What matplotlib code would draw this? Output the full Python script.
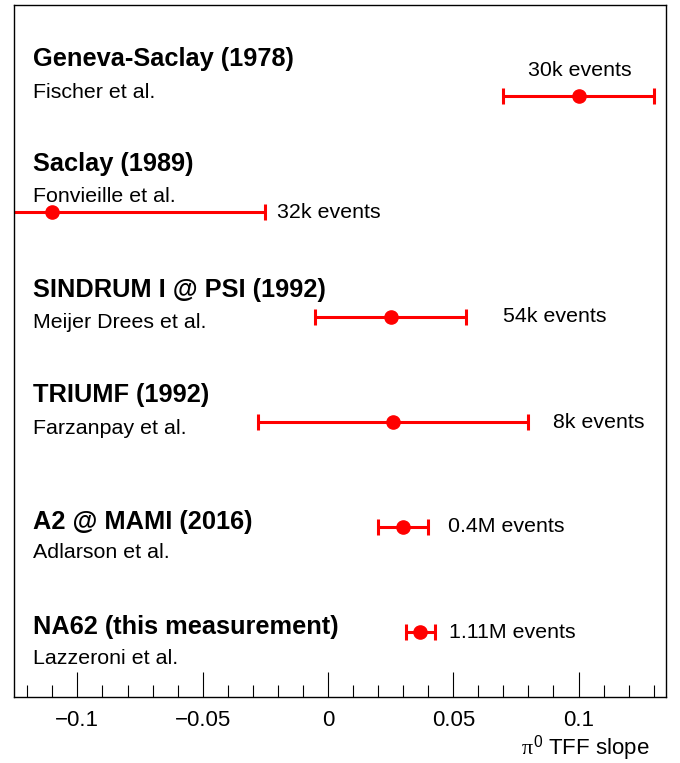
import numpy as np
import matplotlib
matplotlib.use("Agg")
from matplotlib import pyplot as plt
from matplotlib.ticker import MultipleLocator

plt.rcParams["font.family"] = ["Liberation Sans", "DejaVu Sans"]
plt.rcParams["mathtext.fontset"] = "custom"
plt.rcParams["mathtext.rm"] = "Liberation Sans"
plt.rcParams["mathtext.it"] = "Liberation Serif"

experiments = ["Geneva-Saclay (1978)", "Saclay (1989)", "SINDRUM I @ PSI (1992)",
               "TRIUMF (1992)", "A2 @ MAMI (2016)", "NA62 (this measurement)"]
authors = ["Fischer et al.", "Fonvieille et al.", "Meijer Drees et al.",
           "Farzanpay et al.", "Adlarson et al.", "Lazzeroni et al."]
slopes = [0.100, -0.110, 0.025, 0.026, 0.030, 0.0368]
errors = [0.030, 0.085, 0.030, 0.054, 0.010, 0.0058]
events = ["30k events", "32k events", "54k events", "8k events", "0.4M events", "1.11M events"]

# layout (axes units, 0 = bottom of frame)
row_y = [601, 485, 380, 275, 170, 65]
title_dy = [37, 48, 27, 27, 5, 5]
author_dy = [4, 15, -5, -6, -26, -26]
event_x = [0.1005, -0.0204, 0.0698, 0.0898, 0.0479, 0.0483]
event_dy = [25, -1, 0, 0, 0, 0]

red = "#ff0000"

fig = plt.figure(figsize=(6.8, 7.63), dpi=100)
ax = fig.add_axes([14 / 680, 1 - 697 / 763, 652 / 680, 692 / 763])

for i in range(len(experiments)):
    ax.errorbar(slopes[i], row_y[i], xerr=errors[i], fmt="o", color=red,
                ms=9.5, elinewidth=2.2, capsize=6, capthick=2.2)
    ax.text(0.029, (row_y[i] + title_dy[i]) / 692, experiments[i], transform=ax.transAxes,
            fontsize=18.3, fontweight="bold", va="center", ha="left")
    ax.text(0.029, (row_y[i] + author_dy[i]) / 692, authors[i], transform=ax.transAxes,
            fontsize=15.4, va="center", ha="left")
    ha = "center" if i == 0 else "left"
    ax.text(event_x[i], row_y[i] + event_dy[i], events[i], fontsize=15.4,
            va="center", ha=ha)

ax.set_xlim(-0.1253, 0.1349)
ax.set_ylim(0, 692)
ax.set_yticks([])
ax.xaxis.set_minor_locator(MultipleLocator(0.01))
ax.set_xticks([-0.1, -0.05, 0, 0.05, 0.1])
ax.set_xticklabels(["\u22120.1", "\u22120.05", "0", "0.05", "0.1"])
ax.tick_params(axis="x", which="major", direction="in", length=18, width=0.8,
               labelsize=16, pad=9)
ax.tick_params(axis="x", which="minor", direction="in", length=9, width=0.8)
for s in ax.spines.values():
    s.set_linewidth(1.0)

# axis title, placed bottom-right below the tick labels
fig.text(650 / 680, 1 - 748 / 763, r"$\pi^{0}$ TFF slope", fontsize=16,
         ha="right", va="center")

fig.savefig("out.png", dpi=100)
